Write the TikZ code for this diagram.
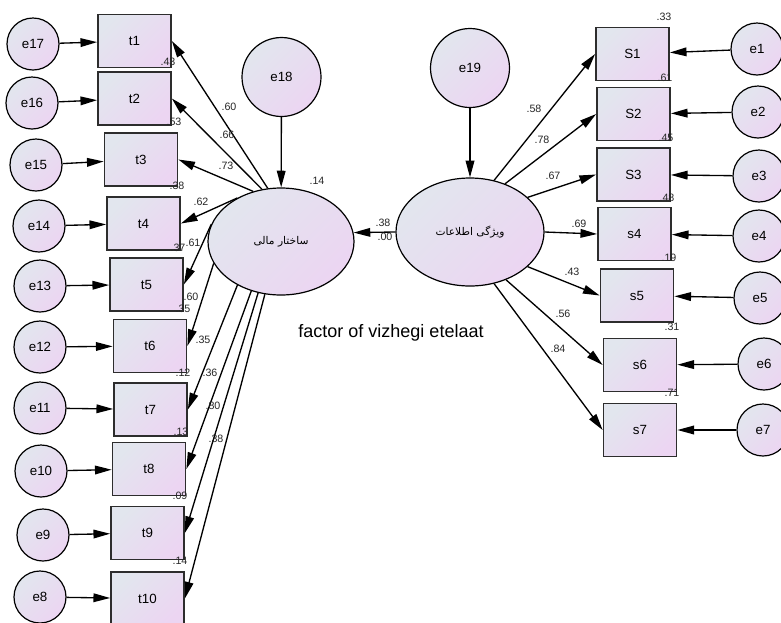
\documentclass[tikz,border=0pt]{standalone}
\usepackage{fontspec}
\setmainfont{Liberation Sans}
\newfontfamily\farsifont[Script=Arabic]{DejaVu Sans}
\TeXXeTstate=1
\usetikzlibrary{arrows.meta,shapes.geometric}
\definecolor{fillA}{RGB}{226,230,238}
\definecolor{fillB}{RGB}{236,213,242}
\definecolor{edge}{RGB}{45,45,45}
\tikzset{
  shaded/.style={top color=fillA, bottom color=fillB, shading angle=45},
  obsbox/.style={draw=edge, line width=1.3pt, shaded, minimum width=54.75pt,
    minimum height=39.75pt, inner sep=0pt, font=\fontsize{10}{12}\selectfont},
  errc/.style={circle, draw=black, line width=0.9pt, shaded, minimum size=39pt,
    inner sep=0pt, font=\fontsize{10}{12}\selectfont},
  bigerr/.style={errc, minimum size=59.25pt},
  latent/.style={ellipse, draw=black, line width=0.9pt, shaded, inner sep=0pt,
    font=\farsifont\fontsize{8}{10}\selectfont},
  load/.style={line width=1pt, -{Triangle[length=12.5pt,width=6.5pt]}},
  coef/.style={font=\fontsize{8}{9}\selectfont, inner sep=0pt, text=black!85},
}
\begin{document}
\begin{tikzpicture}[x=0.75pt,y=-0.75pt]
\useasboundingbox (0,0) rectangle (781,622);
\clip (0,0) rectangle (781,622);

% latent variables
\node[latent, minimum width=109.5pt, minimum height=80.25pt] (ms) at (281,241.5)
  {\beginR ساختار مالی\endR};
\node[latent, minimum width=111pt, minimum height=81pt] (ve) at (470,232)
  {\beginR ویژگی اطلاعات\endR};
\node[bigerr] (e18) at (281.5,77) {e18};
\node[bigerr] (e19) at (470,68) {e19};

% indicators of the left factor
\node[obsbox] (t1) at (134.5,41) {t1};
\node[obsbox] (t2) at (134.5,98.5) {t2};
\node[obsbox] (t3) at (141,159.5) {t3};
\node[obsbox] (t4) at (143.5,223.5) {t4};
\node[obsbox] (t5) at (146.5,284.5) {t5};
\node[obsbox] (t6) at (150,346) {t6};
\node[obsbox] (t7) at (150.5,409.5) {t7};
\node[obsbox] (t8) at (149,469) {t8};
\node[obsbox] (t9) at (147.5,533) {t9};
\node[obsbox] (t10) at (147.5,598.5) {t10};

\node[errc] (e17) at (33,44) {e17};
\node[errc] (e16) at (32,103) {e16};
\node[errc] (e15) at (36,165) {e15};
\node[errc] (e14) at (39,226) {e14};
\node[errc] (e13) at (40,286) {e13};
\node[errc] (e12) at (40,347) {e12};
\node[errc] (e11) at (40,408) {e11};
\node[errc] (e10) at (41,471) {e10};
\node[errc] (e9) at (43,535) {e9};
\node[errc] (e8) at (40,597) {e8};

% indicators of the right factor
\node[obsbox] (S1) at (632.5,54) {S1};
\node[obsbox] (S2) at (633.5,114) {S2};
\node[obsbox] (S3) at (633.5,174.5) {S3};
\node[obsbox] (s4) at (634.5,234) {s4};
\node[obsbox] (s5) at (637,295.5) {s5};
\node[obsbox] (s6) at (640,365) {s6};
\node[obsbox] (s7) at (640,430) {s7};

\node[errc] (e1) at (757,49) {e1};
\node[errc] (e2) at (758,112) {e2};
\node[errc] (e3) at (759,176) {e3};
\node[errc] (e4) at (759,236) {e4};
\node[errc] (e5) at (760,298) {e5};
\node[errc] (e6) at (764,364) {e6};
\node[errc] (e7) at (763,430) {e7};

% error terms
\foreach \e/\t in {e17/t1,e16/t2,e15/t3,e14/t4,e13/t5,e12/t6,e11/t7,e10/t8,e9/t9,e8/t10,
                   e1/S1,e2/S2,e3/S3,e4/s4,e5/s5,e6/s6,e7/s7}
  \draw[load] (\e) -- (\t);
\draw[load] (e18) -- (ms);
\draw[load] (e19) -- (ve);

% factor loadings
\foreach \a/\t in {104/t1,110/t2,119.5/t3,135/t4,166.6/t5,198/t6,225/t7,239.4/t8,246.7/t9,253/t10}
  \draw[load] (ms.\a) -- (\t.east);
\foreach \a/\s in {65.8/S1,54.7/S2,31.1/S3,0/s4,-31.1/s5,-53.7/s6,-65.8/s7}
  \draw[load] (ve.\a) -- (\s.west);
\draw[load] (ve.west) -- (ms.7);

% coefficients, left
\node[coef] (l1) at (229,107) {.60};
\node[coef] (l2) at (227,135) {.66};
\node[coef] (l3) at (226,166) {.73};
\node[coef] (l4) at (201,202) {.62};
\node[coef] (l5) at (193,243) {.61};
\node[coef] (l6) at (191,297) {.60};
\node[coef] (l7) at (203,340) {.35};
\node[coef] (l8) at (210,373) {.36};
\node[coef] (l9) at (213,406) {.80};
\node[coef] (l10) at (216,439) {.38};
\node[coef] (r1) at (168,62) {.43};
\node[coef] (r2) at (174,122) {.53};
\node[coef] (r3) at (177,186) {.38};
\node[coef] (r4) at (178,248) {.37};
\node[coef] (r5) at (183,309) {.35};
\node[coef] (r6) at (183,373) {.12};
\node[coef] (r7) at (181,432) {.13};
\node[coef] (r8) at (180,496) {.09};
\node[coef] (r9) at (180,561) {.14};

% coefficients, right
\node[coef] (k1) at (534,109) {.58};
\node[coef] (k2) at (542,140) {.78};
\node[coef] (k3) at (553,176) {.67};
\node[coef] (k4) at (579,224) {.69};
\node[coef] (k5) at (572,272) {.43};
\node[coef] (k6) at (563,314) {.56};
\node[coef] (k7) at (558,349) {.84};
\node[coef] (q1) at (664,17) {.33};
\node[coef] (q2) at (665,78) {.61};
\node[coef] (q3) at (666,138) {.45};
\node[coef] (q4) at (667,198) {.48};
\node[coef] (q5) at (669,258) {.19};
\node[coef] (q6) at (672,327) {.31};
\node[coef] (q7) at (672,393) {.71};

% structural path and residual
\node[coef] (c1) at (383,223) {.38};
\node[coef] (c2) at (385,237) {.00};
\node[coef] (c3) at (317,181) {.14};

\node[font=\fontsize{13.5}{16}\selectfont, inner sep=0pt] (title) at (391,333)
  {factor of vizhegi etelaat};
\end{tikzpicture}
\end{document}
